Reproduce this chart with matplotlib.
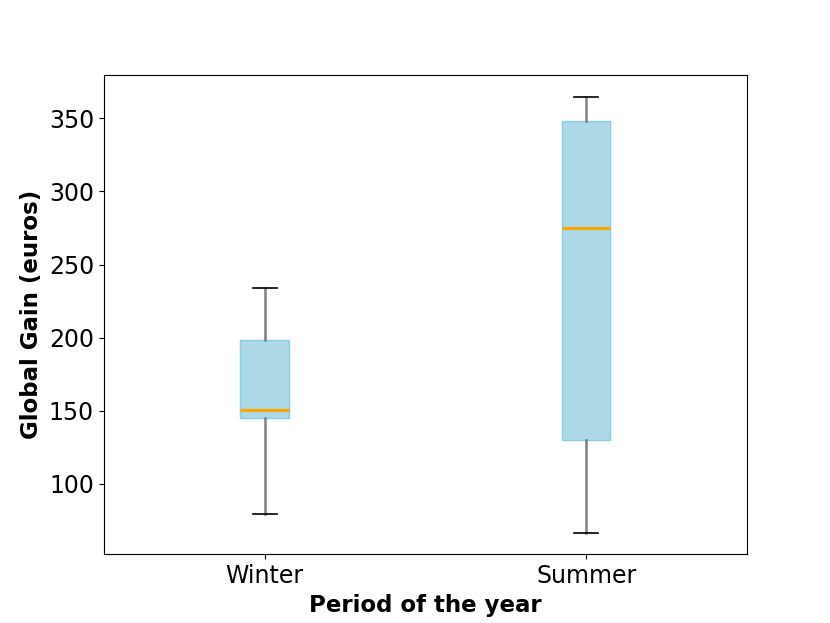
import matplotlib
matplotlib.use("Agg")
import matplotlib.pyplot as plt

# values
periods = ["Winter", "Summer"]
whisker_low = [79.5, 66.4]
q1 = [145.2, 130.1]
medians = [150.7, 274.7]
q3 = [198.6, 348.6]
whisker_high = [234.2, 365.0]

stats = []
for i, name in enumerate(periods):
    stats.append({
        "label": name,
        "whislo": whisker_low[i],
        "q1": q1[i],
        "med": medians[i],
        "q3": q3[i],
        "whishi": whisker_high[i],
        "fliers": [],
    })

fig, ax = plt.subplots(figsize=(8.3, 6.23), dpi=100)

ax.bxp(stats, widths=0.15, patch_artist=True, showfliers=False,
       boxprops=dict(facecolor="lightblue", edgecolor="skyblue", linewidth=1),
       medianprops=dict(color="orange", linewidth=2.2),
       whiskerprops=dict(color="grey", linewidth=1.8),
       capprops=dict(color="black", linewidth=1.2))

ax.set_xlabel("Period of the year", fontsize=16.5, fontweight="bold")
ax.set_ylabel("Global Gain (euros)", fontsize=16.5, fontweight="bold")
ax.tick_params(axis="both", labelsize=17)

fig.savefig("out.png", dpi=100)
